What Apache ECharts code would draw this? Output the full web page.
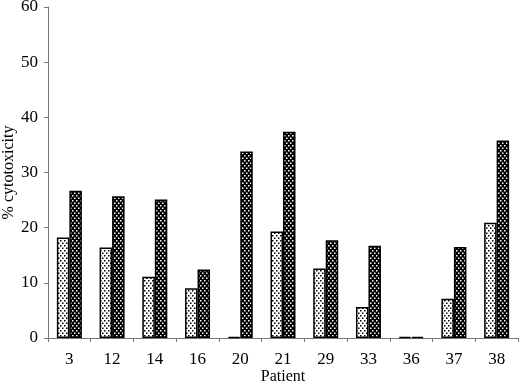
<!DOCTYPE html>
<html>
<head>
<meta charset="utf-8">
<script src="https://cdn.jsdelivr.net/npm/echarts@6/dist/echarts.min.js"></script>
<style>html,body{margin:0;padding:0;background:#fff}#c{width:520px;height:385px}</style>
</head>
<body>
<div id="c"></div>
<script>
var categories = ['3','12','14','16','20','21','29','33','36','37','38'];
var lightValues = [18.2,16.4,11.1,9.0,0.2,19.3,12.6,5.6,0.2,7.1,20.9];
var darkValues = [26.7,25.7,25.1,12.4,33.8,37.4,17.7,16.7,0.2,16.5,35.8];
var yTicks = [0,10,20,30,40,50,60];

function makePattern(bg, fg) {
  var c = document.createElement('canvas');
  c.width = 4; c.height = 5;
  var ctx = c.getContext('2d');
  ctx.fillStyle = bg; ctx.fillRect(0,0,4,5);
  ctx.fillStyle = fg;
  ctx.fillRect(0,0,1.5,1.5);
  ctx.fillRect(2,2.5,1.5,1.5);
  return c;
}
var lightPat = makePattern('#ffffff', '#000000');
var darkPat = makePattern('#000000', '#ffffff');

var chart = echarts.init(document.getElementById('c'), null, {renderer:'canvas'});
var font = 'Liberation Serif';
chart.setOption({
  animation: false,
  backgroundColor: '#fff',
  grid: {left: 48, right: 2, top: 7, bottom: 47, containLabel: false, outerBoundsMode: 'none'},
  xAxis: {
    type: 'category',
    data: categories,
    name: 'Patient',
    nameLocation: 'middle',
    nameGap: 31,
    nameMoveOverlap: false,
    nameTextStyle: {fontFamily: font, fontSize: 16, color: '#000'},
    axisLine: {lineStyle: {color: '#777', width: 1}},
    axisTick: {show: true, alignWithLabel: false, length: 4, lineStyle: {color: '#777'}},
    axisLabel: {fontFamily: font, fontSize: 17, color: '#000', margin: 13}
  },
  yAxis: {
    type: 'value',
    min: 0, max: 60, interval: 10,
    name: '% cytotoxicity',
    nameLocation: 'middle',
    nameGap: 31,
    nameRotate: 90,
    nameMoveOverlap: false,
    nameTextStyle: {fontFamily: font, fontSize: 16, color: '#000'},
    axisLine: {show: true, lineStyle: {color: '#777', width: 1}},
    axisTick: {show: true, length: 4, lineStyle: {color: '#777'}},
    splitLine: {show: false},
    axisLabel: {fontFamily: font, fontSize: 17, color: '#000', margin: 10,
      formatter: function(v){ return yTicks.indexOf(v) >= 0 ? String(v) : ''; }}
  },
  series: [
    {type: 'bar', data: lightValues, barWidth: 12.5, barGap: '0%',
     itemStyle: {color: {image: lightPat, repeat: 'repeat'}, borderColor: '#000', borderWidth: 1.5}},
    {type: 'bar', data: darkValues, barWidth: 12.5, barGap: '0%',
     itemStyle: {color: {image: darkPat, repeat: 'repeat'}, borderColor: '#000', borderWidth: 1.5}}
  ]
});
</script>
</body>
</html>
